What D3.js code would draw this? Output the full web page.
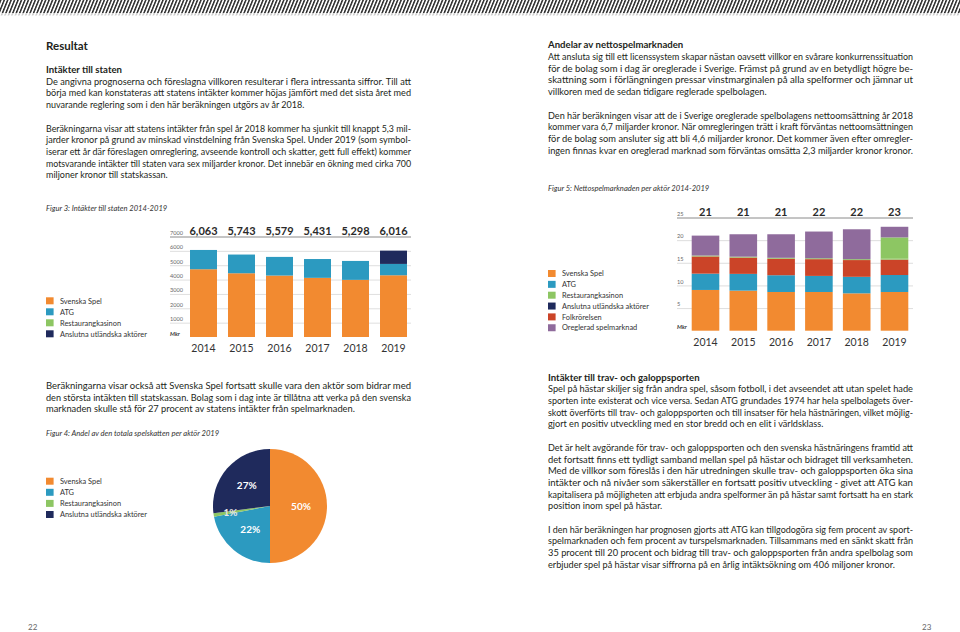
<!DOCTYPE html>
<html><head><meta charset="utf-8">
<script src="https://cdn.jsdelivr.net/npm/d3@7"></script>
<style>html,body{margin:0;padding:0;background:#fff;} svg{display:block;}</style>
</head><body><svg id="page" width="960" height="632"></svg>
<script>
// ---------------- DATA ----------------
const years = ["2014","2015","2016","2017","2018","2019"];
const actors4 = ["Svenska Spel","ATG","Restaurangkasinon","Anslutna utländska aktörer"];
const actors6 = ["Svenska Spel","ATG","Restaurangkasinon","Anslutna utländska aktörer","Folkrörelsen","Oreglerad spelmarknad"];

// Figur 3: Intäkter till staten (Mkr)
const f3SvenskaSpel = [4720,4440,4280,4120,3980,4300];
const f3ATG         = [1343,1303,1299,1311,1318,790];
const f3Restaurang  = [0,0,0,0,0,0];
const f3Anslutna    = [0,0,0,0,0,926];
const f3TotalLabels = ["6,063","5,743","5,579","5,431","5,298","6,016"];
const f3Ticks       = [1000,2000,3000,4000,5000,6000,7000];

// Figur 5: Nettospelmarknaden per aktör (mdr)
const f5SvenskaSpel = [9.0,8.85,8.55,8.55,8.25,8.55];
const f5ATG         = [3.6,3.7,3.7,3.55,3.65,3.75];
const f5Folk        = [3.8,3.6,3.65,3.7,3.7,3.4];
const f5Restaurang  = [0.2,0.2,0.2,0.2,0.2,0.3];
const f5Anslutna    = [0,0,0,0,0,4.6];
const f5Oreglerad   = [4.4,4.95,5.2,5.9,6.6,2.35];
const f5TotalLabels = ["21","21","21","22","22","23"];
const f5Ticks       = [5,10,15,20,25];

// Figur 4: Andel av den totala spelskatten per aktör 2019 (%)
const f4Values = [50,22,1,27];
const f4Labels = ["50%","22%","1%","27%"];

// Text
const leftHead = "Resultat";
const leftSub = "Intäkter till staten";
const leftParas = [
 ["De angivna prognoserna och föreslagna villkoren resulterar i flera intressanta siffror. Till att",
  "börja med kan konstateras att statens intäkter kommer höjas jämfört med det sista året med",
  "nuvarande reglering som i den här beräkningen utgörs av år 2018."],
 ["Beräkningarna visar att statens intäkter från spel år 2018 kommer ha sjunkit till knappt 5,3 mil-",
  "jarder kronor på grund av minskad vinstdelning från Svenska Spel. Under 2019 (som symbol-",
  "iserar ett år där föreslagen omreglering, avseende kontroll och skatter, gett full effekt) kommer",
  "motsvarande intäkter till staten vara sex miljarder kronor. Det innebär en ökning med cirka 700",
  "miljoner kronor till statskassan."]
];
const leftLowParas = [
 ["Beräkningarna visar också att Svenska Spel fortsatt skulle vara den aktör som bidrar med",
  "den största intäkten till statskassan. Bolag som i dag inte är tillåtna att verka på den svenska",
  "marknaden skulle stå för 27 procent av statens intäkter från spelmarknaden."]
];
const rightHead = "Andelar av nettospelmarknaden";
const rightParas = [
 ["Att ansluta sig till ett licenssystem skapar nästan oavsett villkor en svårare konkurrenssituation",
  "för de bolag som i dag är oreglerade i Sverige. Främst på grund av en betydligt högre be-",
  "skattning som i förlängningen pressar vinstmarginalen på alla spelformer och jämnar ut",
  "villkoren med de sedan tidigare reglerade spelbolagen."],
 ["Den här beräkningen visar att de i Sverige oreglerade spelbolagens nettoomsättning år 2018",
  "kommer vara 6,7 miljarder kronor. När omregleringen trätt i kraft förväntas nettoomsättningen",
  "för de bolag som ansluter sig att bli 4,6 miljarder kronor. Det kommer även efter omregler-",
  "ingen finnas kvar en oreglerad marknad som förväntas omsätta 2,3 miljarder kronor kronor."]
];
const rightLowHead = "Intäkter till trav- och galoppsporten";
const rightLowParas = [
 ["Spel på hästar skiljer sig från andra spel, såsom fotboll, i det avseendet att utan spelet hade",
  "sporten inte existerat och vice versa. Sedan ATG grundades 1974 har hela spelbolagets över-",
  "skott överförts till trav- och galoppsporten och till insatser för hela hästnäringen, vilket möjlig-",
  "gjort en positiv utveckling med en stor bredd och en elit i världsklass."],
 ["Det är helt avgörande för trav- och galoppsporten och den svenska hästnäringens framtid att",
  "det fortsatt finns ett tydligt samband mellan spel på hästar och bidraget till verksamheten.",
  "Med de villkor som föreslås i den här utredningen skulle trav- och galoppsporten öka sina",
  "intäkter och nå nivåer som säkerställer en fortsatt positiv utveckling - givet att ATG kan",
  "kapitalisera på möjligheten att erbjuda andra spelformer än på hästar samt fortsatt ha en stark",
  "position inom spel på hästar."],
 ["I den här beräkningen har prognosen gjorts att ATG kan tillgodogöra sig fem procent av sport-",
  "spelmarknaden och fem procent av turspelsmarknaden. Tillsammans med en sänkt skatt från",
  "35 procent till 20 procent och bidrag till trav- och galoppsporten från andra spelbolag som",
  "erbjuder spel på hästar visar siffrorna på en årlig intäktsökning om 406 miljoner kronor."]
];
const captions = ["Figur 3: Intäkter till staten 2014-2019","Figur 5: Nettospelmarknaden per aktör 2014-2019","Figur 4: Andel av den totala spelskatten per aktör 2019"];

// ---------------- STYLE ----------------
const FONT = "Lato, 'Open Sans', sans-serif";
const TXT = "#231f20";
const C = {"Svenska Spel":"#F28A30","ATG":"#2C9AC0","Restaurangkasinon":"#8DC663","Anslutna utländska aktörer":"#1F2A5C","Folkrörelsen":"#CB4428","Oreglerad spelmarknad":"#8F6B9C"};
const C5bars = Object.assign({}, C, {"Anslutna utländska aktörer":"#8DC663"});

const svg = d3.select("#page").attr("font-family", FONT);
svg.append("rect").attr("width",960).attr("height",632).attr("fill","#fff");

// top hatch band
const defs = svg.append("defs");
const pat = defs.append("pattern").attr("id","hatch").attr("patternUnits","userSpaceOnUse")
  .attr("width",3.2).attr("height",40).attr("patternTransform","rotate(22)");
pat.append("rect").attr("width",1.5).attr("height",40).attr("fill","#2b2b2b");
svg.append("rect").attr("x",0).attr("y",0).attr("width",960).attr("height",13).attr("fill","url(#hatch)");
svg.append("rect").attr("x",0).attr("y",13).attr("width",960).attr("height",2.5).attr("fill","url(#hatch)").attr("opacity",0.25);

// ---------------- TEXT BLOCKS ----------------
const LH = 11.7, FS = 9.6;
function block(x, y, width, heading, paras) {
  const g = svg.append("g").attr("font-size", FS).attr("fill", TXT);
  if (heading) { g.append("text").attr("x",x).attr("y",y).attr("font-weight",700).text(heading); y += LH; }
  const items = [];
  paras.forEach((lines, pi) => {
    if (pi > 0) y += LH;
    lines.forEach((line, li) => {
      const t = g.append("text").attr("x",x).attr("y",y).text(line);
      items.push({t, last: li === lines.length-1, w: t.node().getComputedTextLength()});
      y += LH;
    });
  });
  const just = items.filter(d => !d.last);
  const r = just.length ? d3.mean(just, d => width / d.w) : 0.88;
  items.forEach(d => {
    const L = d.last ? Math.min(d.w * r, width) : width;
    d.t.attr("textLength", L).attr("lengthAdjust","spacingAndGlyphs");
  });
}
svg.append("text").attr("x",46).attr("y",49.5).attr("font-size",11.5).attr("font-weight",700).attr("fill",TXT).text(leftHead);
block(46, 73, 365, leftSub, leftParas);
block(46, 388.8, 365, null, leftLowParas);
block(548, 48.3, 365, rightHead, rightParas);
block(548, 380.6, 365, rightLowHead, rightLowParas);

// captions
[[46,210.5,captions[0]],[548,190.5,captions[1]],[46,436,captions[2]]].forEach(([x,y,s]) => {
  svg.append("text").attr("x",x).attr("y",y).attr("font-size",7.6).attr("font-style","italic").attr("fill","#333").text(s);
});

// page numbers
svg.append("text").attr("x",28).attr("y",630).attr("font-size",8).attr("fill","#666").text("22");
svg.append("text").attr("x",922).attr("y",630).attr("font-size",8).attr("fill","#666").text("23");

// ---------------- LEGEND ----------------
function legend(x, yTop, names, step) {
  const g = svg.append("g");
  names.forEach((n,i) => {
    g.append("rect").attr("x",x).attr("y",yTop + i*step).attr("width",7.6).attr("height",7).attr("fill",C[n]);
    g.append("text").attr("x",x+14).attr("y",yTop + i*step + 6.2).attr("font-size",7.4).attr("fill","#333").text(n);
  });
}

// ---------------- STACKED BAR CHART ----------------
function stackedBars(cfg) {
  const g = svg.append("g");
  const x = d3.scaleBand().domain(years).range(cfg.xr).paddingInner(cfg.pi).paddingOuter(cfg.pi/2);
  const y = d3.scaleLinear().domain(cfg.yd).range(cfg.yr);
  const ax = g.append("g").attr("transform",`translate(${cfg.gx},0)`)
    .call(d3.axisRight(y).tickValues(cfg.ticks).tickSize(cfg.gw).tickFormat(d3.format("d")));
  ax.select(".domain").remove();
  ax.selectAll(".tick line").attr("stroke","#d6d6d6").attr("stroke-width",0.8);
  ax.selectAll(".tick").filter(d => d === cfg.ticks[cfg.ticks.length-1]).select("line").attr("stroke","#8a8a8a").attr("stroke-width",1);
  ax.selectAll(".tick text").attr("x",0).attr("y",-2.2).attr("dy",0).attr("text-anchor","start")
    .attr("font-size",5.6).attr("fill","#666").attr("font-family",FONT);
  g.append("text").attr("x",cfg.gx).attr("y",y(0)-1.5).attr("font-size",5.6).attr("font-weight",700)
    .attr("font-style","italic").attr("fill","#333").text("Mkr");
  const rows = years.map((yr,i) => { const o = {year: yr}; cfg.keys.forEach(k => o[k] = cfg.series[k][i]); return o; });
  const st = d3.stack().keys(cfg.keys)(rows);
  g.selectAll("g.s").data(st).join("g").attr("fill", d => cfg.colors[d.key])
    .selectAll("rect").data(d => d).join("rect")
    .attr("x", d => x(d.data.year)).attr("width", x.bandwidth())
    .attr("y", d => y(d[1])).attr("height", d => Math.max(0, y(d[0]) - y(d[1])));
  g.selectAll("text.tot").data(cfg.totals).join("text").attr("class","tot")
    .attr("x",(d,i) => x(years[i]) + x.bandwidth()/2).attr("y", y(cfg.yd[1]) - 2)
    .attr("text-anchor","middle").attr("font-size",11).attr("font-weight",700).attr("fill","#2a2a2a").text(d => d);
  g.selectAll("text.yr").data(years).join("text").attr("class","yr")
    .attr("x", d => x(d) + x.bandwidth()/2).attr("y", cfg.yearY)
    .attr("text-anchor","middle").attr("font-size",10.5).attr("fill","#333").text(d => d);
}

stackedBars({
  xr:[184.5,412.5], pi:0.29, yd:[0,7000], yr:[337,236.5], gx:170, gw:241, ticks:f3Ticks,
  keys: actors4, colors: C,
  series: {"Svenska Spel":f3SvenskaSpel, "ATG":f3ATG, "Restaurangkasinon":f3Restaurang, "Anslutna utländska aktörer":f3Anslutna},
  totals: f3TotalLabels, yearY: 351.5
});
legend(46, 297.3, actors4, 11);

stackedBars({
  xr:[686.6,913.4], pi:0.27, yd:[0,25], yr:[330.7,217.5], gx:677, gw:236, ticks:f5Ticks,
  keys: ["Svenska Spel","ATG","Folkrörelsen","Restaurangkasinon","Anslutna utländska aktörer","Oreglerad spelmarknad"],
  colors: C5bars,
  series: {"Svenska Spel":f5SvenskaSpel, "ATG":f5ATG, "Folkrörelsen":f5Folk, "Restaurangkasinon":f5Restaurang, "Anslutna utländska aktörer":f5Anslutna, "Oreglerad spelmarknad":f5Oreglerad},
  totals: f5TotalLabels, yearY: 345.5
});
legend(548, 270, actors6, 10.85);

// ---------------- PIE ----------------
const pieG = svg.append("g").attr("transform","translate(270,506)");
const R = 57;
const arcs = d3.pie().sort(null)(f4Values);
const arc = d3.arc().innerRadius(0).outerRadius(R);
pieG.selectAll("path").data(arcs).join("path").attr("d", arc).attr("fill",(d,i) => C[actors4[i]]);
const labArc = d3.arc().innerRadius(31).outerRadius(31);
const labArcOut = d3.arc().innerRadius(40).outerRadius(40);
pieG.selectAll("text").data(arcs).join("text")
  .attr("transform", d => `translate(${(d.value < 5 ? labArcOut : labArc).centroid(d)})`)
  .attr("text-anchor","middle").attr("dy","0.35em").attr("font-size",10).attr("font-weight",700)
  .attr("fill", d => d.value < 5 ? "#e8e8e8" : "#fff").text((d,i) => f4Labels[i]);
legend(46, 477.7, actors4, 11.1);
</script>
</body></html>
